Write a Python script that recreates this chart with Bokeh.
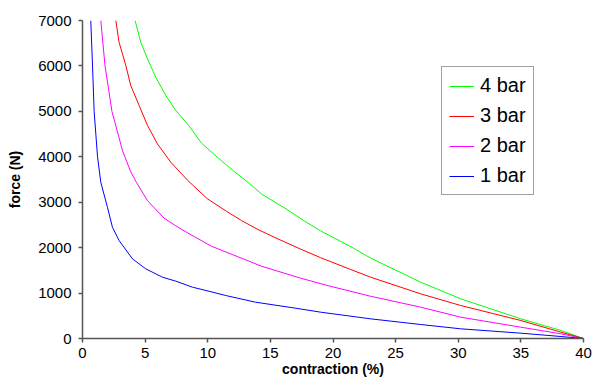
from bokeh.plotting import figure
from bokeh.models import Range1d, FixedTicker, Legend, LegendItem
from bokeh.embed import file_html
from bokeh.resources import INLINE

# data (contraction %, force N)
x_1bar = [0.66, 0.8, 0.93, 1.2, 1.46, 1.99, 2.39, 2.92, 3.99, 5.05, 6.38, 7.45, 8.78, 10.1, 11.44, 13.8, 16.9, 19.0, 23.0, 27.0, 30.2, 35.0, 38.2, 40.0]
y_1bar = [7000, 6000, 5000, 4000, 3440, 2890, 2450, 2157, 1753, 1533, 1350, 1262, 1130, 1040, 946, 800, 672, 580, 433, 308, 213, 117, 44, 0]

x_2bar = [1.46, 1.8, 2.35, 3.2, 3.85, 4.3, 5.2, 6.51, 7.45, 8.3, 10.3, 12.4, 14.3, 17.4, 19.5, 23.0, 27.0, 30.2, 35.0, 38.2, 40.0]
y_2bar = [7000, 6000, 5000, 4130, 3670, 3440, 3030, 2650, 2480, 2340, 2030, 1800, 1590, 1330, 1170, 930, 690, 469, 249, 103, 0]

x_3bar = [2.66, 2.92, 3.46, 3.85, 4.52, 5.19, 5.98, 7.05, 8.4, 9.97, 11.5, 12.69, 14.0, 15.3, 17.4, 19.0, 21.4, 23.0, 27.0, 30.2, 35.0, 38.2, 40.0]
y_3bar = [7000, 6520, 6010, 5570, 5130, 4690, 4285, 3880, 3480, 3075, 2800, 2597, 2400, 2230, 1970, 1780, 1520, 1350, 983, 726, 396, 139, 0]

x_4bar = [4.2, 4.65, 5.2, 5.85, 6.65, 7.45, 8.5, 9.5, 10.85, 12.0, 13.3, 14.3, 16.1, 17.7, 19.0, 21.5, 23.0, 27.0, 30.2, 35.0, 38.2, 40.0]
y_4bar = [7000, 6520, 6150, 5750, 5350, 5020, 4680, 4300, 3970, 3700, 3420, 3180, 2880, 2590, 2370, 2010, 1770, 1240, 873, 433, 176, 0]

x_ticks = [0, 5, 10, 15, 20, 25, 30, 35, 40]
y_ticks = [0, 1000, 2000, 3000, 4000, 5000, 6000, 7000]

FONT = "Liberation Sans"

p = figure(width=592, height=380, output_backend="svg", toolbar_location=None,
           x_range=Range1d(0, 40), y_range=Range1d(0, 7000))
p.min_border_left = 82
p.min_border_right = 9
p.min_border_top = 20
p.min_border_bottom = 42
p.outline_line_color = None
p.xgrid.visible = False
p.ygrid.visible = False
p.background_fill_color = "white"
p.border_fill_color = "white"

r4 = p.line(x_4bar, y_4bar, line_color="#00ff00", line_width=1)
r3 = p.line(x_3bar, y_3bar, line_color="#ff0000", line_width=1)
r2 = p.line(x_2bar, y_2bar, line_color="#ff00ff", line_width=1)
r1 = p.line(x_1bar, y_1bar, line_color="#0000ff", line_width=1)

for ax in (p.xaxis[0], p.yaxis[0]):
    ax.axis_line_color = "#555555"
    ax.axis_line_width = 1.5
    ax.major_tick_line_color = "#555555"
    ax.major_tick_line_width = 1.5
    ax.major_tick_out = 4
    ax.major_tick_in = 0
    ax.minor_tick_line_color = None
    ax.major_label_text_font = FONT
    ax.major_label_text_font_size = "15px"
    ax.major_label_text_color = "#000000"
    ax.axis_label_text_font = FONT
    ax.axis_label_text_font_style = "bold"
    ax.axis_label_text_font_size = "14px"
    ax.axis_label_text_color = "#000000"

p.xaxis[0].ticker = FixedTicker(ticks=x_ticks)
p.yaxis[0].ticker = FixedTicker(ticks=y_ticks)
p.xaxis[0].axis_label = "contraction (%)"
p.yaxis[0].axis_label = "force (N)"
p.xaxis[0].major_label_standoff = 5
p.xaxis[0].axis_label_standoff = 0
p.yaxis[0].major_label_standoff = 7
p.yaxis[0].axis_label_standoff = 12

legend = Legend(items=[
    LegendItem(label="4 bar", renderers=[r4]),
    LegendItem(label="3 bar", renderers=[r3]),
    LegendItem(label="2 bar", renderers=[r2]),
    LegendItem(label="1 bar", renderers=[r1]),
], location=(359, 143))
legend.label_text_font = FONT
legend.label_text_font_size = "20px"
legend.label_text_color = "#000000"
legend.label_height = 22
legend.glyph_height = 22
legend.glyph_width = 25
legend.label_standoff = 6
legend.spacing = 7
legend.padding = 7
legend.border_line_color = "#444444"
legend.border_line_width = 1.5
legend.background_fill_alpha = 1.0
legend.background_fill_color = "white"
p.add_layout(legend, "center")

open("out.html", "w").write(file_html(p, INLINE))
